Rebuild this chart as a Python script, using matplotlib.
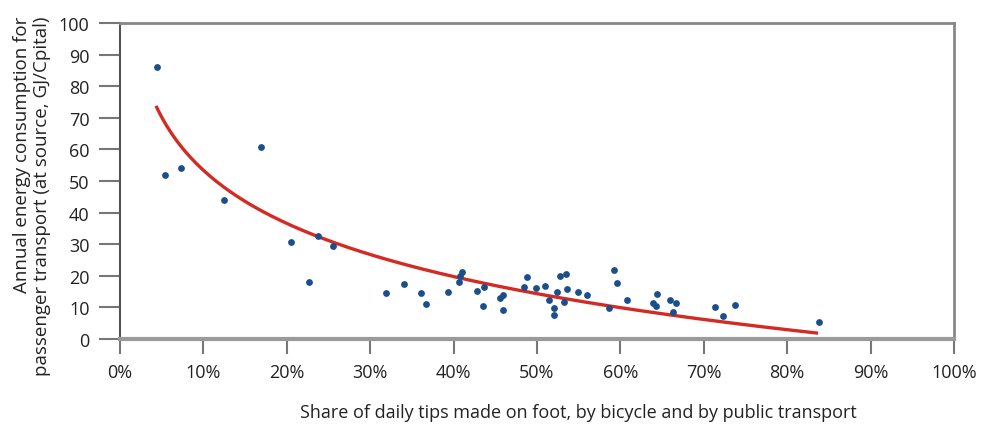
import numpy as np
import matplotlib
matplotlib.use("Agg")
import matplotlib.pyplot as plt
from matplotlib.ticker import FuncFormatter

plt.rcParams['font.family'] = ['Open Sans', 'DejaVu Sans']

# share of trips on foot / bicycle / public transport (%), energy use (GJ/capita)
share = [4.4, 5.4, 7.3, 12.5, 16.9, 20.5, 22.7, 23.8, 25.5,
         31.9, 34.1, 36.1, 36.7, 39.3, 41.0, 40.8, 40.7, 42.8, 43.7,
         43.5, 45.6, 45.9, 45.9, 48.4, 48.8, 49.9, 51.0, 51.4, 52.0,
         52.0, 52.4, 52.8, 53.5, 53.2, 53.6, 54.9, 56.0, 58.6, 59.2,
         59.6, 60.8, 64.4, 63.9, 64.3, 66.0, 66.7, 66.3, 71.4, 72.3,
         73.7, 83.8]
energy = [86.0, 52.0, 54.0, 44.0, 60.8, 30.8, 18.1, 32.7, 29.3,
          14.6, 17.3, 14.6, 11.2, 14.8, 21.3, 19.8, 17.9, 15.2, 16.5,
          10.3, 13.1, 13.9, 9.3, 16.5, 19.6, 16.2, 16.9, 12.2, 9.7,
          7.6, 15.0, 19.8, 20.5, 11.8, 15.8, 14.8, 13.9, 9.7, 21.9,
          17.6, 12.5, 14.1, 11.4, 10.5, 12.4, 11.4, 8.4, 10.0, 7.2,
          10.8, 5.3]

# logarithmic trend line: energy = TREND_A + TREND_B * ln(share)
TREND_A = 109.25
TREND_B = -24.26
trend_range = [4.4, 83.5]

y_ticks = [0, 10, 20, 30, 40, 50, 60, 70, 80, 90, 100]
x_ticks = [0, 10, 20, 30, 40, 50, 60, 70, 80, 90, 100]

fig = plt.figure(figsize=(9.92, 4.27), dpi=100)
ax = fig.add_axes([120 / 992, 87 / 427, 834 / 992, 316 / 427])

xs = np.linspace(trend_range[0], trend_range[1], 200)
ax.plot(xs, TREND_A + TREND_B * np.log(xs), color='#d42a24', lw=2.4, zorder=2)

ax.scatter(share, energy, s=24, color='#1b4f8c', zorder=3, linewidths=0)

ax.set_xlim(0, 100)
ax.set_ylim(0, 100)
ax.set_xticks(x_ticks)
ax.set_yticks(y_ticks)
ax.xaxis.set_major_formatter(FuncFormatter(lambda v, p: f"{v:.0f}%"))

ax.tick_params(axis='y', direction='out', length=15, width=1.5, color='#777777',
               labelsize=13, labelcolor='#222222', pad=7)
ax.tick_params(axis='x', direction='out', length=11, width=1.5, color='#777777',
               labelsize=13, labelcolor='#222222', pad=6)

ax.spines['left'].set_color('#555555')
ax.spines['left'].set_linewidth(1.5)
ax.spines['bottom'].set_color('#9a9a9a')
ax.spines['bottom'].set_linewidth(3)
ax.spines['top'].set_color('#888888')
ax.spines['top'].set_linewidth(2)
ax.spines['right'].set_color('#888888')
ax.spines['right'].set_linewidth(2)

fig.text(32 / 992, 1 - 17 / 427,
         "Annual energy consumption for\npassenger transport (at source, GJ/Cpital)",
         rotation=90, ha='center', va='top', multialignment='right',
         fontsize=13.5, color='#222222', linespacing=1.1)
fig.text(578 / 992, 1 - 413 / 427,
         "Share of daily tips made on foot, by bicycle and by public transport",
         ha='center', va='center', fontsize=13, color='#222222')

fig.savefig("out.png", dpi=100)
